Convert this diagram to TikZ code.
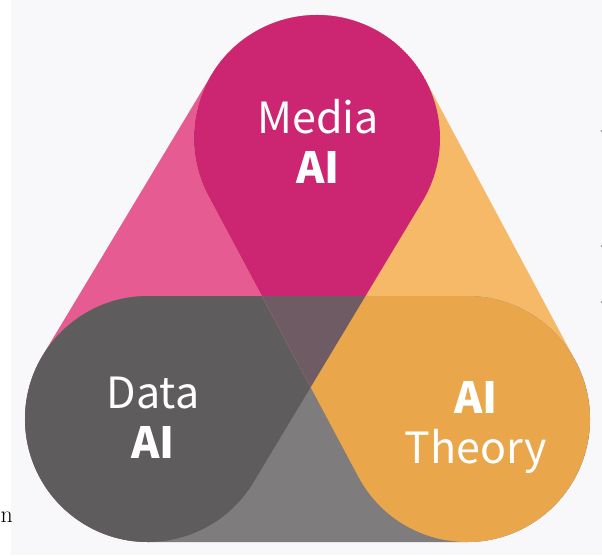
\documentclass[tikz,border=0pt]{standalone}
\usepackage{fontspec}
\setmainfont{Latin Modern Roman}
\newfontfamily\labelfont{Noto Sans CJK KR}
\usetikzlibrary{calc}

\definecolor{bgcol}{HTML}{F8F8FA}
\definecolor{pinklight}{HTML}{E55B92}
\definecolor{magentadeep}{HTML}{CC2572}
\definecolor{orangelight}{HTML}{F6B968}
\definecolor{orangedeep}{HTML}{E9A64B}
\definecolor{greymid}{HTML}{7E7C7D}
\definecolor{greydark}{HTML}{5E5C5D}
\definecolor{mauve}{HTML}{6F5B64}

% capsule (stadium) around the segment #1--#2, radius \caprad
\newcommand\capsule[2]{let \p1=($(#2)-(#1)$), \n1={atan2(\y1,\x1)} in
  ($(#1)+(\n1+90:\caprad)$) -- ($(#2)+(\n1+90:\caprad)$)
  arc[start angle=\n1+90, end angle=\n1-90, radius=\caprad]
  -- ($(#1)+(\n1-90:\caprad)$)
  arc[start angle=\n1-90, end angle=\n1-270, radius=\caprad] -- cycle}
\newcommand\caprad{123pt}

\tikzset{
  lbl/.style={text=white, align=center, inner sep=0pt,
    font=\labelfont\fontsize{43}{50}\selectfont},
  tick/.style={fill=gray!70, draw=none}
}

\begin{document}
\begin{tikzpicture}[x=1pt,y=1pt]
  \useasboundingbox (0,0) rectangle (602,555);
  \fill[bgcol] (0,0) rectangle (602,555);
  \fill[white] (0,0) rectangle (11,555);

  \coordinate (T) at (317,417);
  \coordinate (L) at (148,136);
  \coordinate (R) at (467,136);

  % single bands
  \fill[pinklight] \capsule{T}{L};
  \fill[orangelight] \capsule{T}{R};
  \fill[greymid] \capsule{L}{R};

  % pairwise overlaps
  \begin{scope}
    \clip \capsule{T}{L};
    \fill[magentadeep] \capsule{T}{R};
    \fill[greydark] \capsule{L}{R};
  \end{scope}
  \begin{scope}
    \clip \capsule{T}{R};
    \fill[orangedeep] \capsule{L}{R};
  \end{scope}
  % centre, where all three meet
  \begin{scope}
    \clip \capsule{T}{L};
    \clip \capsule{T}{R};
    \fill[mauve] \capsule{L}{R};
  \end{scope}

  \node[lbl] (media) at (318,414) {Media\\\textbf{AI}};
  \node[lbl] (data) at (153,137) {Data\\\textbf{AI}};
  \node[lbl] (theory) at (476,127) {\textbf{AI}\\Theory};

  % marks at the edges
  \node[anchor=west, inner sep=0pt, font=\fontsize{24}{24}\selectfont] (edgen) at (0.5,38) {n};
  \fill[tick] (601.5,424) circle (1.2);
  \fill[tick] (601.5,309) circle (1.2);
  \fill[tick] (601.5,253) circle (1.2);
\end{tikzpicture}
\end{document}
